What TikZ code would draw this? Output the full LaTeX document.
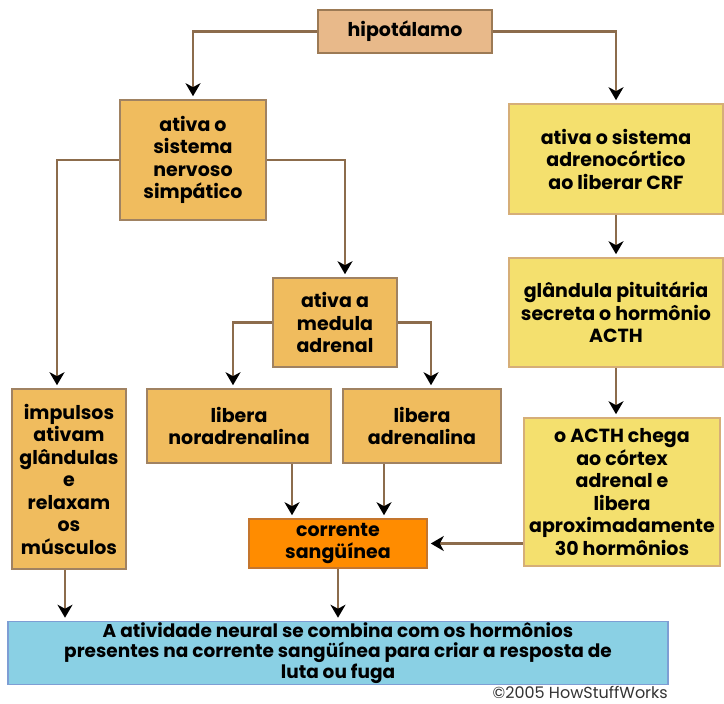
\documentclass[tikz,border=0pt]{standalone}
\usepackage{fontspec}
\setmainfont{Poppins}
\usetikzlibrary{arrows.meta}
\definecolor{hipfill}{HTML}{E8B98A}
\definecolor{hipdraw}{HTML}{9C7A55}
\definecolor{orfill}{HTML}{F0BC5E}
\definecolor{ordraw}{HTML}{A08262}
\definecolor{yefill}{HTML}{F4E06E}
\definecolor{yedraw}{HTML}{D6AE78}
\definecolor{blfill}{HTML}{8AD0E4}
\definecolor{bldraw}{HTML}{7E9ED4}
\definecolor{cofill}{HTML}{FF8C00}
\definecolor{codraw}{HTML}{C4762E}
\definecolor{wire}{HTML}{8C6C4C}
\tikzset{
  box/.style={draw, line width=1.6pt, align=center, inner sep=1pt,
    font=\fontsize{19}{22.5}\selectfont\bfseries},
  conn/.style={draw=wire, line width=2.4pt,
    -{Stealth[length=13pt,width=15pt,inset=4pt,color=black,fill=black]},
    shorten >=3pt},
}
\begin{document}
\begin{tikzpicture}[x=1pt,y=-1pt]
\useasboundingbox (0,0) rectangle (724,704);
\node[box, fill=hipfill, draw=hipdraw, minimum width=174pt, minimum height=43pt] (hip) at (405,31.5) {hipotálamo};
\node[box, fill=orfill, draw=ordraw, minimum width=146pt, minimum height=120pt] (sns) at (193,160) {ativa o\\sistema\\nervoso\\simpático};
\node[box, fill=yefill, draw=yedraw, minimum width=214pt, minimum height=110pt] (crf) at (616,159) {ativa o sistema\\adrenocórtico\\ao liberar CRF};
\node[box, fill=yefill, draw=yedraw, minimum width=214pt, minimum height=109pt] (pit) at (616,312.5) {glândula pituitária\\secreta o hormônio\\ACTH};
\node[box, fill=yefill, draw=yedraw, minimum width=196pt, minimum height=148pt] (acth) at (622,492) {o ACTH chega\\ao córtex\\adrenal e\\libera\\aproximadamente\\30 hormônios};
\node[box, fill=orfill, draw=ordraw, minimum width=124pt, minimum height=89pt] (med) at (335,322.5) {ativa a\\medula\\adrenal};
\node[box, fill=orfill, draw=ordraw, minimum width=184pt, minimum height=74pt] (nor) at (239,426) {libera\\noradrenalina};
\node[box, fill=orfill, draw=ordraw, minimum width=158pt, minimum height=74pt] (adr) at (422,426) {libera\\adrenalina};
\node[box, fill=orfill, draw=ordraw, minimum width=114pt, minimum height=180pt] (imp) at (69,479) {impulsos\\ativam\\glândulas\\e\\relaxam\\os\\músculos};
\node[box, fill=cofill, draw=codraw, minimum width=178pt, minimum height=49pt] (cor) at (338,543.5) {corrente\\sangüínea};
\node[box, fill=blfill, draw=bldraw, minimum width=660pt, minimum height=62pt,
  font=\fontsize{18.5}{20.5}\selectfont\bfseries] (bot) at (338,653) {A atividade neural se combina com os hormônios\\presentes na corrente sangüínea para criar a resposta de\\luta ou fuga};
\node[font=\fontsize{16}{17}\selectfont, text=black!80, anchor=east, inner sep=0pt] (copy) at (668,692) {©2005 HowStuffWorks};
% connectors
\draw[conn] (hip.west) -| (sns.north);
\draw[conn] (hip.east) -| (crf.north);
\draw[conn] (sns.west) -| ([xshift=-12pt]imp.north);
\draw[conn] (sns.east) -| ([xshift=10pt]med.north);
\draw[conn] (med.west) -| ([xshift=-6pt]nor.north);
\draw[conn] (med.east) -| ([xshift=9pt]adr.north);
\draw[conn] (crf.south) -- (pit.north);
\draw[conn] (pit.south) -- (pit.south |- acth.north);
\draw[conn] ([xshift=53pt]nor.south) -- ([xshift=53pt]nor.south |- cor.north);
\draw[conn] ([xshift=-38pt]adr.south) -- ([xshift=-38pt]adr.south |- cor.north);
\draw[conn] (acth.west |- cor.east) -- (cor.east);
\draw[conn] ([xshift=-4pt]imp.south) -- ([xshift=-4pt]imp.south |- bot.north);
\draw[conn] (cor.south) -- (cor.south |- bot.north);
\end{tikzpicture}
\end{document}
